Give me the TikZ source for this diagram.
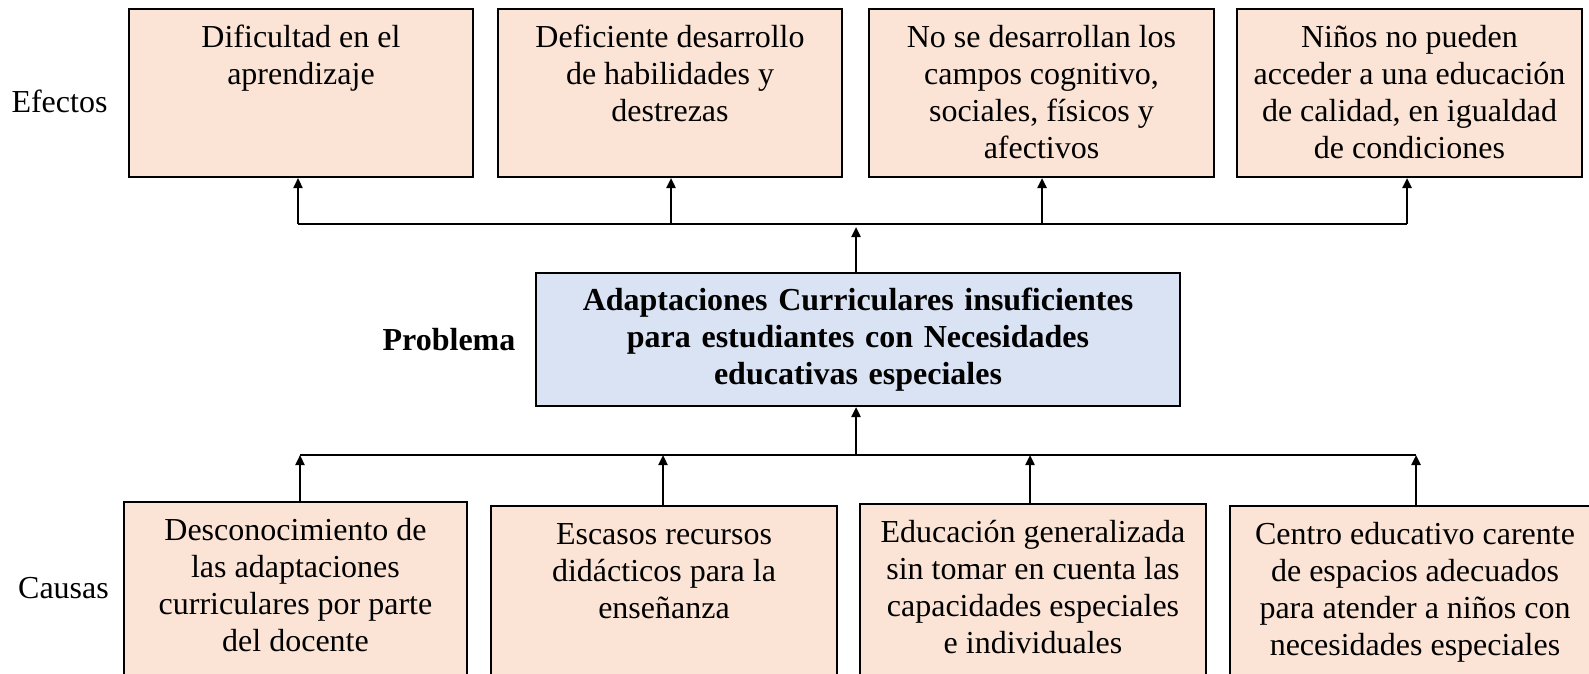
\documentclass[tikz,border=0pt]{standalone}
\usepackage{fontspec}
\setmainfont{Liberation Serif}
\usetikzlibrary{arrows.meta}

\definecolor{peach}{HTML}{FBE4D5}
\definecolor{paleblue}{HTML}{DAE3F3}

% text of a box, set from the top
\newcommand{\boxtxt}[3]{\parbox[c][#2][t]{#1}{\centering\strut #3}}

\begin{document}
\begin{tikzpicture}[x=1pt, y=-1pt,
    font=\fontsize{32}{37}\selectfont,
    cellbox/.style={draw, line width=2pt, fill=peach, inner xsep=4pt, inner ysep=13pt, anchor=north west},
    probbox/.style={draw, line width=2pt, fill=paleblue, inner sep=0pt,
        minimum width=644pt, minimum height=133pt, text width=630pt, align=center,
        font=\fontsize{32}{37}\selectfont\bfseries},
    link/.style={line width=2.3pt},
    arr/.style={link, -{Triangle[length=10pt,width=9pt]}}]

    \clip (0,0) rectangle (1589,673);

    % effects
    \node[cellbox] (e1) at (128,8) {\boxtxt{336pt}{142pt}{Dificultad en el\\ aprendizaje}};
    \node[cellbox] (e2) at (497,8) {\boxtxt{336pt}{142pt}{Deficiente desarrollo\\ de habilidades y\\ destrezas}};
    \node[cellbox] (e3) at (868,8) {\boxtxt{337pt}{142pt}{No se desarrollan los\\ campos cognitivo,\\ sociales, físicos y\\ afectivos}};
    \node[cellbox] (e4) at (1236,8) {\boxtxt{337pt}{142pt}{Niños no pueden\\ acceder a una educación\\ de calidad, en igualdad\\ de condiciones}};

    % problem
    \node[probbox] (prob) at (858,339.5) {Adaptaciones Curriculares insuficientes\\ para estudiantes con Necesidades\\ educativas especiales};

    % causes
    \node[cellbox] (c1) at (123,501) {\boxtxt{335pt}{190pt}{Desconocimiento de\\ las adaptaciones\\ curriculares por parte\\ del docente}};
    \node[cellbox] (c2) at (490,505) {\boxtxt{338pt}{190pt}{Escasos recursos\\ didácticos para la\\ enseñanza}};
    \node[cellbox] (c3) at (859,503) {\boxtxt{338pt}{190pt}{Educación generalizada\\ sin tomar en cuenta las\\ capacidades especiales\\ e individuales}};
    \node[cellbox] (c4) at (1229,505) {\boxtxt{362pt}{190pt}{Centro educativo carente\\ de espacios adecuados\\ para atender a niños con\\ necesidades especiales}};

    % row labels
    \node (efectos) at (59.5,101) {Efectos};
    \node[font=\fontsize{32}{37}\selectfont\bfseries] (problema) at (449,340) {Problema};
    \node (causas) at (63.5,588) {Causas};

    % upper branch
    \coordinate (t1) at (298,224);
    \coordinate (t2) at (671,224);
    \coordinate (t3) at (1042,224);
    \coordinate (t4) at (1407,224);
    \coordinate (tm) at (856,227);
    \draw[link] (t1) -- (t4);
    \draw[arr] (prob.north -| tm) -- (tm);
    \draw[arr] (t1) -- (t1 |- e1.south);
    \draw[arr] (t2) -- (t2 |- e2.south);
    \draw[arr] (t3) -- (t3 |- e3.south);
    \draw[arr] (t4) -- (t4 |- e4.south);

    % lower branch
    \coordinate (b1) at (300,455);
    \coordinate (b2) at (663,455);
    \coordinate (b3) at (1030,455);
    \coordinate (b4) at (1416,455);
    \coordinate (bm) at (856,455);
    \draw[link] (b1) -- (b4);
    \draw[arr] (bm) -- (bm |- prob.south);
    \draw[arr] (b1 |- c1.north) -- (b1);
    \draw[arr] (b2 |- c2.north) -- (b2);
    \draw[arr] (b3 |- c3.north) -- (b3);
    \draw[arr] (b4 |- c4.north) -- (b4);

\end{tikzpicture}
\end{document}
